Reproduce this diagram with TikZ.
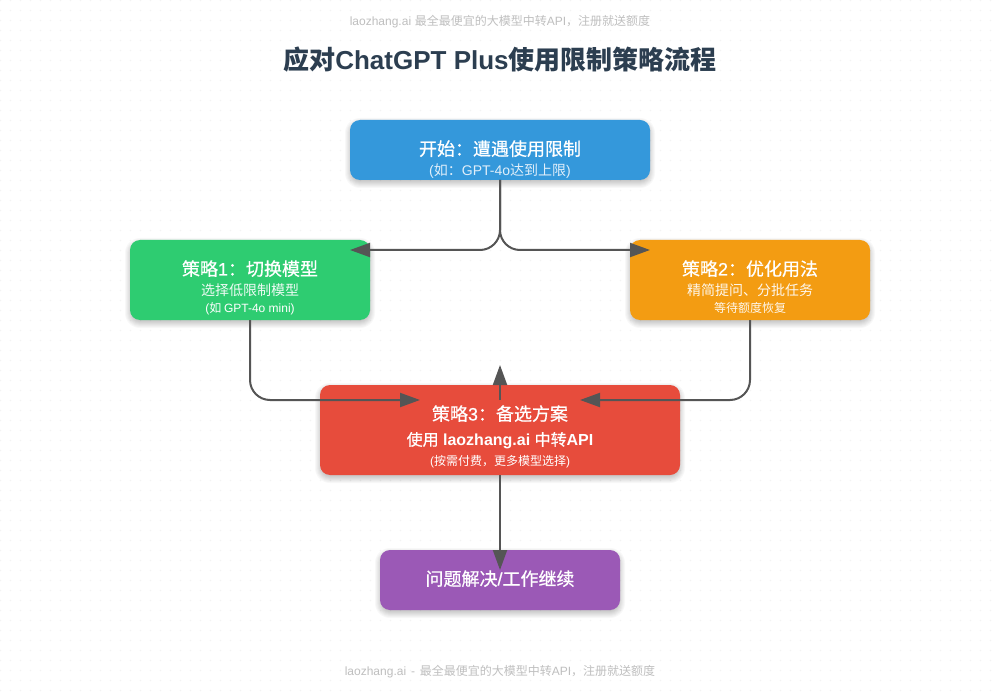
\documentclass[tikz,border=0pt]{standalone}
\usepackage{fontspec}
\setmainfont{Noto Sans CJK SC}
\newfontfamily\latinf{Liberation Sans}
\newfontfamily\latmedf[FakeBold=0.5]{Liberation Sans}
\newfontfamily\medf[FakeBold=0.6]{Noto Sans CJK SC}
\newcommand\lat[1]{{\latinf #1}}
\newcommand\latm[1]{{\latmedf #1}}
\newcommand\latb[1]{{\latinf\bfseries #1}}
\usetikzlibrary{arrows.meta}
\definecolor{ink}{HTML}{2C3E50}
\definecolor{wire}{HTML}{555555}
\definecolor{dotc}{HTML}{F3F3F3}
\definecolor{blueb}{HTML}{3498DB}
\definecolor{greenb}{HTML}{2ECC71}
\definecolor{orangeb}{HTML}{F39C12}
\definecolor{redb}{HTML}{E74C3C}
\definecolor{purpleb}{HTML}{9B59B6}
\newcommand\softshadow[4]{\foreach \r in {5,4,3,2,1,0,-1,-2}{\fill[black,opacity=.028,rounded corners={(10+\r)*1pt}] (#1-\r,#2-\r+3) rectangle (#3+\r,#4+\r+3);}}
\tikzset{
 flowbox/.style={rounded corners=10pt,inner sep=0pt,outer sep=0pt},
 label/.style={text=white,inner sep=0pt,anchor=base},
 wireline/.style={draw=wire,line width=2pt,-{Triangle[length=20pt,width=14pt]},rounded corners=20pt},
 cap/.style={text=#1,inner sep=0pt,anchor=base},
 head/.style={label,font=\fontsize{18}{22}\medf\selectfont},
 sub/.style={label,font=\fontsize{14}{16}\selectfont},
 small/.style={label,font=\fontsize{12}{14}\selectfont},
}
\begin{document}
\begin{tikzpicture}[x=1pt,y=-1pt]
\path[use as bounding box] (0,0) rectangle (1000,700);
\fill[white] (0,0) rectangle (1000,700);
\foreach \i in {0,...,99}{\foreach \j in {0,...,69}{\fill[dotc] (\i*10+0.5,\j*10+0.5) circle (0.8pt);}}
\node[cap=black!25,font=\fontsize{12}{14}\selectfont] (top) at (500,25.5) {\lat{laozhang.ai\hspace{1pt}} 最全最便宜的大模型中转\lat{API}，注册就送额度};
\node[cap=ink,font=\fontsize{26}{30}\bfseries\selectfont] (title) at (500,70) {应对\latb{ChatGPT Plus}使用限制策略流程};
\node[cap=black!25,font=\fontsize{12}{14}\selectfont] (bot) at (500,675.5) {\lat{laozhang.ai\hspace{1.5pt} - \hspace{1.5pt}}最全最便宜的大模型中转\lat{API}，注册就送额度};
\softshadow{350}{120}{650}{180}
\softshadow{130}{240}{370}{320}
\softshadow{630}{240}{870}{320}
\softshadow{320}{385}{680}{475}
\softshadow{380}{550}{620}{610}
\node[flowbox,fill=blueb,minimum width=300pt,minimum height=60pt] (start) at (500,150) {};
\node[flowbox,fill=greenb,minimum width=240pt,minimum height=80pt] (s1) at (250,280) {};
\node[flowbox,fill=orangeb,minimum width=240pt,minimum height=80pt] (s2) at (750,280) {};
\node[flowbox,fill=redb,minimum width=360pt,minimum height=90pt] (s3) at (500,430) {};
\node[flowbox,fill=purpleb,minimum width=240pt,minimum height=60pt] (s4) at (500,580) {};
\coordinate (t1) at (350,250);
\coordinate (t2) at (650,250);
\coordinate (t3) at (420,400);
\coordinate (t4) at (580,400);
\coordinate (t5) at (500,365);
\coordinate (f5) at (500,400);
\coordinate (t6) at (500,570);
\draw[wireline] (start.south) |- (t1);
\draw[wireline] (start.south) |- (t2);
\draw[wireline] (s1.south) |- (t3);
\draw[wireline] (s2.south) |- (t4);
\draw[wireline] (f5) -- (t5);
\draw[wireline] (s3.south) -- (t6);
\node[head] (l1) at (500,155.5) {开始：遭遇使用限制};
\node[sub,text=white!85!blueb] (l2) at (500,175.5) {\lat{(}如：\lat{GPT-4o}达到上限\lat{)}};
\node[head] (l3) at (250,275.5) {策略\latm{1}：切换模型};
\node[sub,text=white!92!greenb] (l4) at (250,295.5) {选择低限制模型};
\node[small] (l5) at (250,312.5) {\lat{(}如 \lat{GPT-4o mini)}};
\node[head] (l6) at (750,275.5) {策略\latm{2}：优化用法};
\node[sub,text=white!92!orangeb] (l7) at (750,295.5) {精简提问、分批任务};
\node[small,text=white!92!orangeb] (l8) at (750,312.5) {等待额度恢复};
\node[head] (l9) at (500,420.5) {策略\latm{3}：备选方案};
\node[label,font=\fontsize{16}{18}\medf\selectfont] (l10) at (500,445.5) {使用\latb{ laozhang.ai }中转\latb{API}};
\node[small] (l11) at (500,465.5) {\lat{(}按需付费，更多模型选择\lat{)}};
\node[head] (l12) at (500,585.5) {问题解决\latm{/}工作继续};
\end{tikzpicture}
\end{document}
